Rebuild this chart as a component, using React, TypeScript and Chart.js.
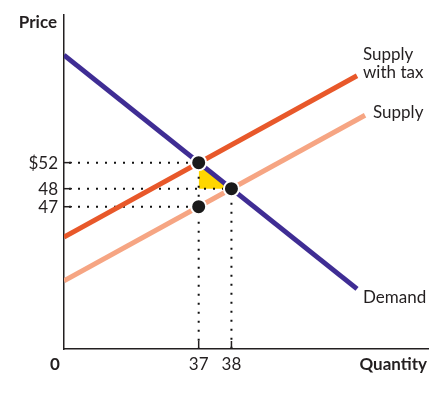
import React, { useEffect, useRef } from "react";
import { Chart, registerables } from "chart.js";

Chart.register(...registerables);

// Schematic diagram units (0–100 on both axes)
const demandQ = [0, 80.5];
const demandP = [88, 18];
const supplyQ = [0, 82.7];
const supplyP = [20.4, 70.0];
const taxQ = [0, 80.5];
const taxP = [33.5, 81.8];

// key quantities: with tax, equilibrium
const keyQ = [37, 46];
const keyQLabels = ["37", "38"];
// key prices: buyers pay, equilibrium, sellers receive
const keyP = [55.8, 48, 42.6];
const keyPLabels = ["$52", "48", "47"];

const taxLabel = ["Supply", "with tax"];
const supplyLabel = "Supply";
const demandLabel = "Demand";
const xTitle = "Quantity";
const yTitle = "Price";
const originLabel = "0";

const TEXT = "#231f20";
const AXIS = "#231f20";
const DEMAND = "#3f2d94";
const TAX = "#e8582a";
const SUPPLY = "#f6a583";
const YELLOW = "#ffd600";
const FONT = "Lato, 'Open Sans', sans-serif";

const pts = (qs: number[], ps: number[]) => qs.map((q, i) => ({ x: q, y: ps[i] }));

const annotations = {
  id: "annotations",
  afterDraw(chart: any) {
    const { ctx, chartArea, scales } = chart;
    const { left, right, top, bottom } = chartArea;
    const x = scales.x;
    const y = scales.y;
    ctx.save();
    ctx.strokeStyle = AXIS;
    ctx.lineWidth = 1.5;
    keyP.forEach((p) => {
      const py = y.getPixelForValue(p);
      ctx.beginPath();
      ctx.moveTo(left, py);
      ctx.lineTo(left + 8, py);
      ctx.stroke();
    });
    keyQ.forEach((q) => {
      const px = x.getPixelForValue(q);
      ctx.beginPath();
      ctx.moveTo(px, bottom);
      ctx.lineTo(px, bottom - 8);
      ctx.stroke();
    });

    ctx.fillStyle = TEXT;
    ctx.font = `17px ${FONT}`;
    ctx.textBaseline = "alphabetic";
    ctx.textAlign = "right";
    keyP.forEach((p, i) => ctx.fillText(keyPLabels[i], left - 6, y.getPixelForValue(p) + 6));
    ctx.textAlign = "center";
    keyQ.forEach((q, i) => ctx.fillText(keyQLabels[i], x.getPixelForValue(q), bottom + 21));
    ctx.font = `bold 17px ${FONT}`;
    ctx.fillText(originLabel, left - 9, bottom + 21);
    ctx.textAlign = "right";
    ctx.fillText(xTitle, right - 1, bottom + 21);
    ctx.fillText(yTitle, left - 7, top + 13);

    ctx.font = `17px ${FONT}`;
    ctx.textAlign = "left";
    const tx = x.getPixelForValue(taxQ[1]);
    const ty = y.getPixelForValue(taxP[1]);
    ctx.fillText(taxLabel[0], tx + 6, ty - 16);
    ctx.fillText(taxLabel[1], tx + 6, ty + 2);
    const sx = x.getPixelForValue(supplyQ[1]);
    const sy = y.getPixelForValue(supplyP[1]);
    ctx.fillText(supplyLabel, sx + 8, sy + 3);
    const dx = x.getPixelForValue(demandQ[1]);
    const dy = y.getPixelForValue(demandP[1]);
    ctx.fillText(demandLabel, dx + 6, dy + 14);
    ctx.restore();
  },
};

export default function App() {
  const ref = useRef<HTMLCanvasElement | null>(null);
  useEffect(() => {
    if (!ref.current) return;
    const dotted = (data: any[]) => ({
      type: "line" as const,
      data,
      borderColor: "#111",
      borderWidth: 2,
      borderDash: [2, 7],
      borderDashOffset: 4,
      pointRadius: 0,
      fill: false,
      order: 5,
    });
    const chart = new Chart(ref.current, {
      type: "line",
      data: {
        datasets: [
          {
            type: "scatter",
            data: [
              { x: keyQ[0], y: keyP[0] },
              { x: keyQ[1], y: keyP[1] },
              { x: keyQ[0], y: keyP[2] },
            ],
            pointRadius: 7.5,
            pointBackgroundColor: "#1a1a1a",
            pointBorderColor: "#ffffff",
            pointBorderWidth: 2,
            showLine: false,
            order: 0,
          } as any,
          { data: pts(demandQ, demandP), borderColor: DEMAND, borderWidth: 5, pointRadius: 0, order: 1 },
          { data: pts(taxQ, taxP), borderColor: TAX, borderWidth: 5, pointRadius: 0, order: 2 },
          { data: pts(supplyQ, supplyP), borderColor: SUPPLY, borderWidth: 5, pointRadius: 0, order: 3 },
          dotted([{ x: 0, y: keyP[0] }, { x: keyQ[0], y: keyP[0] }]),
          dotted([{ x: 0, y: keyP[1] }, { x: keyQ[1], y: keyP[1] }]),
          dotted([{ x: 0, y: keyP[2] }, { x: keyQ[0], y: keyP[2] }]),
          dotted([{ x: keyQ[0], y: keyP[0] }, { x: keyQ[0], y: 0 }]),
          dotted([{ x: keyQ[1], y: keyP[1] }, { x: keyQ[1], y: 0 }]),
          {
            data: [
              { x: keyQ[0], y: keyP[0] },
              { x: keyQ[1], y: keyP[1] },
            ],
            borderWidth: 0,
            borderColor: YELLOW,
            backgroundColor: YELLOW,
            pointRadius: 0,
            fill: { value: keyP[1] },
            order: 6,
          } as any,
        ],
      },
      options: {
        animation: false,
        responsive: true,
        maintainAspectRatio: false,
        layout: { padding: { left: 64, top: 15, right: 18, bottom: 47 } },
        plugins: { legend: { display: false }, tooltip: { enabled: false } },
        scales: {
          x: {
            type: "linear",
            min: 0,
            max: 100,
            grid: { display: false, drawTicks: false },
            ticks: { display: false },
            border: { display: true, color: AXIS, width: 1.5 },
          },
          y: {
            type: "linear",
            min: 0,
            max: 100,
            grid: { display: false, drawTicks: false },
            ticks: { display: false },
            border: { display: true, color: AXIS, width: 1.5 },
          },
        },
      },
      plugins: [annotations],
    });
    return () => chart.destroy();
  }, []);
  return (
    <div style={{ position: "fixed", left: 0, top: 0, width: 446, height: 396, background: "#fff" }}>
      <canvas ref={ref} style={{ display: "block" }} />
    </div>
  );
}
